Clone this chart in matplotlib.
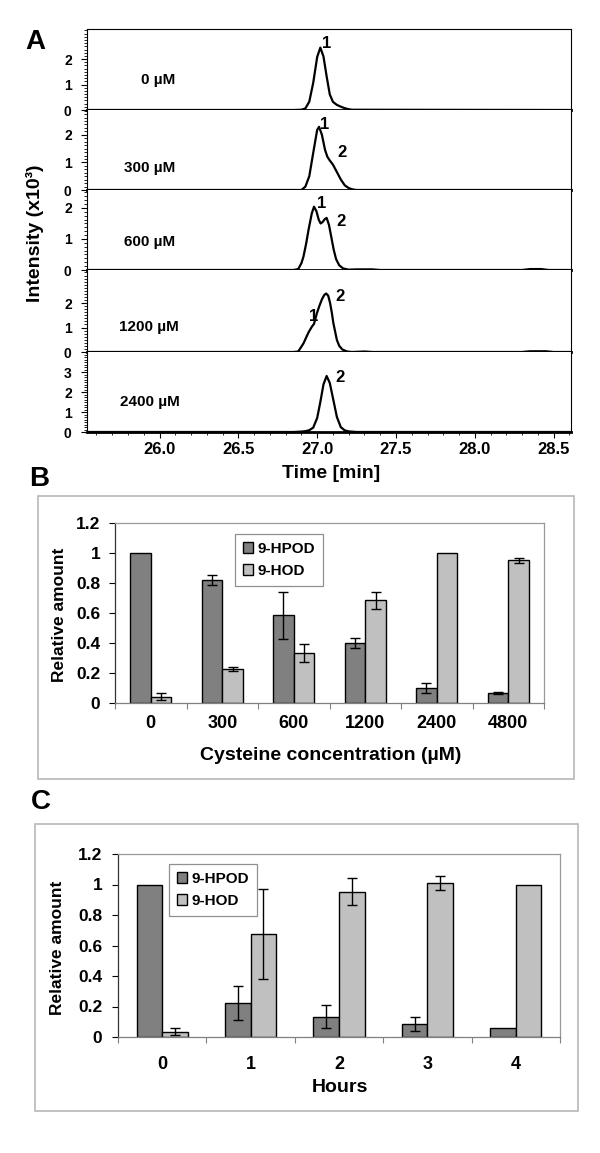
import numpy as np
import matplotlib
matplotlib.use('Agg')
import matplotlib.pyplot as plt
from matplotlib.ticker import MultipleLocator, FuncFormatter
from matplotlib.patches import Rectangle

nan = np.nan

# ---- panel A: chromatogram traces (time in min, intensity x10^3)
conc_labels = ['0 µM', '300 µM', '600 µM', '1200 µM', '2400 µM']

t_0 = [25.55, 26.85, 26.90, 26.925, 26.95, 26.975, 27.00, 27.02, 27.04, 27.06, 27.08,
       27.10, 27.125, 27.15, 27.175, 27.20, 27.22, 28.60]
i_0 = [0, 0, 0.01, 0.06, 0.33, 1.07, 2.08, 2.45, 2.10, 1.32, 0.61,
       0.32, 0.20, 0.13, 0.07, 0.03, 0.01, 0]

t_300 = [25.55, 26.90, 26.925, 26.95, 26.975, 27.00, 27.012, 27.03, 27.05, 27.065, 27.08,
         27.10, 27.125, 27.15, 27.175, 27.20, 27.225, 27.25, 28.60]
i_300 = [0, 0, 0.12, 0.50, 1.35, 2.18, 2.29, 2.00, 1.45, 1.20, 1.07,
         0.92, 0.65, 0.38, 0.17, 0.07, 0.02, 0, 0]

t_600 = [25.55, 26.85, 26.88, 26.90, 26.913, 26.93, 26.945, 26.966, 26.98, 26.995, 27.01,
         27.022, 27.035, 27.048, 27.06, 27.075, 27.09, 27.105, 27.12, 27.14, 27.165, 27.20,
         27.25, 27.35, 27.40, 28.30, 28.35, 28.42, 28.47, 28.60]
i_600 = [0, 0, 0.03, 0.22, 0.43, 0.85, 1.29, 1.83, 2.04, 1.90, 1.62,
         1.50, 1.55, 1.64, 1.68, 1.45, 1.05, 0.65, 0.35, 0.15, 0.05, 0.01,
         0.02, 0.02, 0, 0, 0.03, 0.03, 0, 0]

t_1200 = [25.55, 26.85, 26.88, 26.913, 26.945, 26.966, 26.98, 26.998, 27.015, 27.03, 27.045,
          27.057, 27.07, 27.082, 27.093, 27.103, 27.115, 27.125, 27.14, 27.16, 27.19, 27.22,
          27.30, 27.35, 28.30, 28.35, 28.45, 28.50, 28.60]
i_1200 = [0, 0, 0.02, 0.35, 0.80, 1.03, 1.15, 1.58, 1.90, 2.15, 2.33,
          2.39, 2.30, 2.00, 1.60, 1.17, 0.80, 0.49, 0.25, 0.10, 0.02, 0,
          0.02, 0, 0, 0.03, 0.03, 0, 0]

t_2400 = [25.55, 26.85, 26.90, 26.925, 26.95, 26.975, 27.00, 27.02, 27.04, 27.06, 27.08,
          27.10, 27.125, 27.15, 27.175, 27.20, 27.25, 28.60]
i_2400 = [0, 0, 0.02, 0.04, 0.09, 0.22, 0.70, 1.50, 2.38, 2.80, 2.45,
          1.70, 0.75, 0.24, 0.08, 0.03, 0, 0]

traces = [(t_0, i_0), (t_300, i_300), (t_600, i_600), (t_1200, i_1200), (t_2400, i_2400)]
time_ticks = [26.0, 26.5, 27.0, 27.5, 28.0, 28.5]

# ---- panel B: cysteine concentration series
conc = ['0', '300', '600', '1200', '2400', '4800']
hpod_b = [1.0, 0.82, 0.585, 0.40, 0.10, 0.067]
hpod_b_err = [nan, 0.033, 0.155, 0.035, 0.034, 0.007]
hod_b = [0.042, 0.227, 0.335, 0.685, 1.0, 0.951]
hod_b_err = [0.025, 0.014, 0.06, 0.056, nan, 0.017]

# ---- panel C: time course
hours = ['0', '1', '2', '3', '4']
hpod_c = [1.0, 0.224, 0.132, 0.086, 0.059]
hpod_c_err = [nan, 0.11, 0.075, 0.044, nan]
hod_c = [0.035, 0.675, 0.954, 1.011, 1.0]
hod_c_err = [0.023, 0.295, 0.088, 0.048, nan]

series_names = ['9-HPOD', '9-HOD']
rel_ticks = [0, 0.2, 0.4, 0.6, 0.8, 1.0, 1.2]

plt.rcParams['font.family'] = ['Liberation Sans', 'DejaVu Sans']

W, H = 600, 1153
fig = plt.figure(figsize=(W / 100, H / 100), dpi=100)


def box(l, t, r, b):
    # pixel box -> figure fraction rect
    return [l / W, 1 - b / H, (r - l) / W, (b - t) / H]


def ptext(x, y, s, **kw):
    fig.text(x / W, 1 - y / H, s, ha=kw.pop('ha', 'center'), va=kw.pop('va', 'center'), **kw)


# ================= A =================
rows = [(29, 110), (110, 190), (190, 270), (270, 352), (352, 432)]
ymaxes = [3.18, 2.9, 2.58, 3.35, 4.0]
conc_pos = [(25.99, 1.18), (25.94, 0.80), (25.94, 0.90), (25.93, 1.02), (25.94, 1.50)]
peak_marks = [
    [(27.063, 2.63, '1')],
    [(27.05, 2.36, '1'), (27.16, 1.35, '2')],
    [(27.03, 2.15, '1'), (27.15, 1.56, '2')],
    [(26.977, 1.44, '1'), (27.146, 2.26, '2')],
    [(27.146, 2.70, '2')],
]

for i, (top, bot) in enumerate(rows):
    ax = fig.add_axes(box(87, top, 571, bot))
    t, v = traces[i]
    ax.plot(t, v, color='black', lw=1.6, clip_on=False, solid_joinstyle='round')
    ax.set_xlim(25.54, 28.61)
    ax.set_ylim(0, ymaxes[i])
    yt = [0, 1, 2, 3] if i == 4 else [0, 1, 2]
    ax.set_yticks(yt, labels=[str(k) for k in yt], fontsize=10, fontweight='bold')
    ax.yaxis.set_minor_locator(MultipleLocator(0.125))
    ax.tick_params(axis='y', which='major', direction='out', length=4, width=0.8, pad=7)
    ax.tick_params(axis='y', which='minor', direction='out', length=2.2, width=0.6)
    ax.spines['bottom'].set_linewidth(2.0)
    ax.spines['left'].set_linewidth(0.8)
    ax.spines['right'].set_linewidth(0.8)
    if i == 0:
        ax.spines['top'].set_linewidth(0.8)
    else:
        ax.spines['top'].set_visible(False)
    if i == 4:
        ax.set_xticks(time_ticks, labels=['%.1f' % k for k in time_ticks],
                      fontsize=12, fontweight='bold')
        ax.xaxis.set_minor_locator(MultipleLocator(0.1))
        ax.tick_params(axis='x', which='major', direction='out', length=4, width=0.8, pad=3.5)
        ax.tick_params(axis='x', which='minor', direction='out', length=2.5, width=0.6)
    else:
        ax.tick_params(axis='x', which='both', bottom=False, labelbottom=False)
    cx, cy = conc_pos[i]
    ax.text(cx, cy, conc_labels[i], ha='center', va='center', fontsize=11, fontweight='bold')
    for px, py, s in peak_marks[i]:
        ax.text(px, py, s, ha='center', va='center', fontsize=12, fontweight='bold')

ptext(35, 42, 'A', fontsize=20, fontweight='bold')
ptext(35, 233, 'Intensity (x10³)', fontsize=14, fontweight='bold', rotation=90)
ptext(331, 473, 'Time [min]', fontsize=14, fontweight='bold')


# ================= B and C =================
def bar_panel(axbox, frame, cats, hpod, hpod_err, hod, hod_err, legend_xy, xpad, ypad):
    fx0, fy0, fx1, fy1 = frame
    fig.add_artist(Rectangle((fx0 / W, 1 - fy1 / H), (fx1 - fx0) / W, (fy1 - fy0) / H,
                             transform=fig.transFigure, fill=False,
                             edgecolor='#b8b8b8', lw=1.2))
    ax = fig.add_axes(box(*axbox))
    x = np.arange(len(cats))
    w = 0.29
    b1 = ax.bar(x - w / 2, hpod, w, color='#808080', edgecolor='black', lw=1.0, zorder=2)
    b2 = ax.bar(x + w / 2, hod, w, color='#c0c0c0', edgecolor='black', lw=1.0, zorder=2)
    for xs, vals, errs in [(x - w / 2, hpod, hpod_err), (x + w / 2, hod, hod_err)]:
        errs = np.array(errs, dtype=float)
        m = np.isfinite(errs)
        ax.errorbar(xs[m], np.array(vals)[m], yerr=errs[m], fmt='none', ecolor='black',
                    elinewidth=1.0, capsize=3.3, capthick=1.0, zorder=3)
    ax.set_xlim(-0.5, len(cats) - 0.5)
    ax.set_ylim(0, 1.2)
    ax.set_yticks(rel_ticks)
    ax.yaxis.set_major_formatter(FuncFormatter(lambda v, p: '%g' % v))
    ax.set_xticks(x, labels=cats)
    ax.set_xticks(np.arange(len(cats) + 1) - 0.5, minor=True)
    for lab in ax.get_xticklabels():
        lab.set_fontsize(13)
        lab.set_fontweight('bold')
    for lab in ax.get_yticklabels():
        lab.set_fontsize(12.5)
        lab.set_fontweight('bold')
    ax.tick_params(axis='x', which='major', length=0, pad=xpad)
    ax.tick_params(axis='x', which='minor', direction='out', length=4, width=0.8, color='#808080')
    ax.tick_params(axis='y', which='major', direction='out', length=4, width=0.8, pad=ypad)
    ax.spines['left'].set_color('#333333')
    ax.spines['bottom'].set_color('#808080')
    ax.spines['top'].set_color('#999999')
    ax.spines['right'].set_color('#999999')
    for s in ax.spines.values():
        s.set_linewidth(0.9)
    lx, ly = legend_xy
    leg = ax.legend([b1, b2], series_names, loc='upper left',
                    bbox_to_anchor=(lx / W, 1 - ly / H), bbox_transform=fig.transFigure,
                    borderaxespad=0, fancybox=False, framealpha=1, edgecolor='#909090',
                    handlelength=0.7, handleheight=0.7, handletextpad=0.3,
                    labelspacing=0.55, borderpad=0.5,
                    prop={'size': 11, 'weight': 'bold'})
    leg.get_frame().set_linewidth(0.9)
    return ax


bar_panel((115, 523, 544, 703), (38, 496, 574, 779), conc, hpod_b, hpod_b_err,
          hod_b, hod_b_err, (235, 534), 8.6, 6.5)
ptext(39, 479, 'B', fontsize=20, fontweight='bold')
ptext(60, 615, 'Relative amount', fontsize=12.5, fontweight='bold', rotation=90)
ptext(331, 755, 'Cysteine concentration (µM)', fontsize=14, fontweight='bold')

bar_panel((118, 854, 560, 1037), (35, 824, 578, 1111), hours, hpod_c, hpod_c_err,
          hod_c, hod_c_err, (169, 864), 13.7, 7.4)
ptext(41, 802, 'C', fontsize=20, fontweight='bold')
ptext(58, 948, 'Relative amount', fontsize=12.5, fontweight='bold', rotation=90)
ptext(340, 1087, 'Hours', fontsize=14, fontweight='bold')

fig.savefig('out.png', dpi=100)
